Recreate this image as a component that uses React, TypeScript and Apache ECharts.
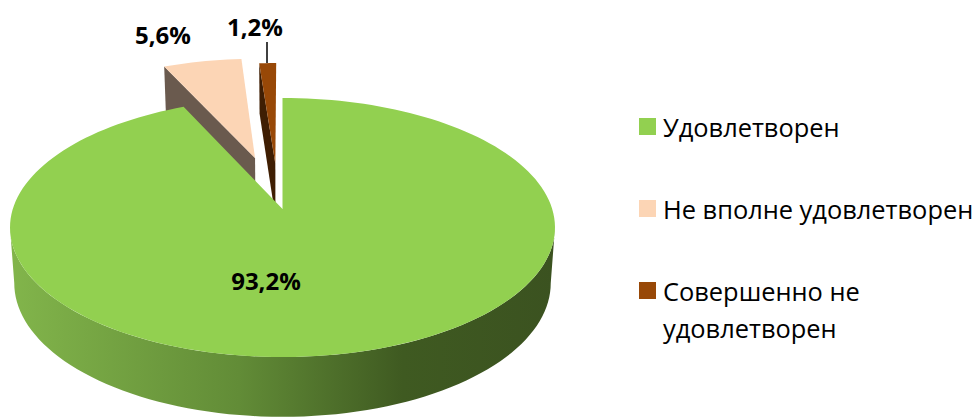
import React, { useEffect, useRef } from "react";
import * as echarts from "echarts";

const categories = ["Удовлетворен", "Не вполне удовлетворен", "Совершенно не\nудовлетворен"];
const values = [93.2, 5.6, 1.2];
const explodeOffsets = [[0, 0], [-0.108, -0.426], [-0.028, -0.376]];
const topColors = ["#92d050", "#fcd5b5", "#984807"];
const sideColors = ["#3d5520", "#6a5a4e", "#3f1e03"];
const labelPositions = [[266, 280], [163, 34], [255, 26]];

const FONT = '"Open Sans", "Noto Sans", sans-serif';
const CX = 282.5;
const K = 0.1428;
const TOP = { y0: 209, a: 126.9, b: 269.7 };
const BOTTOM = { y0: 264, a: 131, b: 265.5 };

function project(plane: any, u: number, v: number): number[] {
  const d = 1 - K * v;
  return [CX + (plane.b * u) / d, plane.y0 + (plane.a * v) / d];
}
function point(plane: any, deg: number, r: number, ou: number, ov: number) {
  const t = (deg * Math.PI) / 180;
  return project(plane, r * Math.sin(t) + ou, -r * Math.cos(t) + ov);
}
function arc(plane: any, a0: number, a1: number, ou: number, ov: number) {
  const pts: number[][] = [];
  const n = Math.max(2, Math.ceil(Math.abs(a1 - a0) / 2));
  for (let i = 0; i <= n; i++) pts.push(point(plane, a0 + ((a1 - a0) * i) / n, 1, ou, ov));
  return pts;
}
function fmt(v: number) {
  return v.toFixed(1).replace(".", ",") + "%";
}

function makeRenderItem(index: number) {
  return (_p: any, api: any) => {
    const total = values.reduce((s, x) => s + x, 0);
    const before = values.slice(0, index).reduce((s, x) => s + x, 0);
    const a0 = (before / total) * 360;
    const a1 = a0 + (api.value(0) / total) * 360;
    const [ou, ov] = explodeOffsets[index];
    const children: any[] = [];
    const apexTop = project(TOP, ou, ov);
    const apexBottom = project(BOTTOM, ou, ov);
    if (index === 0) {
      const wallTop = arc(TOP, 98.2, 261.8, 0, 0);
      const wallBottom = arc(BOTTOM, 261.8, 98.2, 0, 0);
      children.push({
        type: "polygon",
        shape: { points: [...wallTop, ...wallBottom] },
        style: {
          fill: new echarts.graphic.LinearGradient(
            10, 0, 555, 0,
            [
              { offset: 0, color: "#82b54b" },
              { offset: 0.42, color: "#628c37" },
              { offset: 0.72, color: "#3f5a21" },
              { offset: 1, color: "#3b5220" },
            ],
            true
          ),
        },
      });
    } else {
      children.push({
        type: "polygon",
        shape: {
          points: [
            point(TOP, a0, 1, ou, ov),
            apexTop,
            apexBottom,
            point(BOTTOM, a0, 1, ou, ov),
          ],
        },
        style: { fill: sideColors[index] },
      });
    }
    children.push({
      type: "polygon",
      shape: { points: [apexTop, ...arc(TOP, a0, a1, ou, ov)] },
      style: { fill: topColors[index] },
    });
    if (index === 2) {
      const lx = labelPositions[2][0] + 12;
      children.push({
        type: "line",
        shape: { x1: lx, y1: 42, x2: lx, y2: 63 },
        style: { stroke: "#000", lineWidth: 1.5 },
      });
    }
    children.push({
      type: "text",
      style: {
        text: fmt(api.value(0)),
        x: labelPositions[index][0],
        y: labelPositions[index][1],
        fill: "#000",
        font: `bold 24px ${FONT}`,
        textAlign: "center",
        textVerticalAlign: "middle",
      },
    });
    return { type: "group", children };
  };
}

export default function App() {
  const ref = useRef<HTMLDivElement>(null);
  useEffect(() => {
    document.body.style.margin = "0";
    const chart = echarts.init(ref.current!, null, { renderer: "svg" });
    const textStyle = { fontFamily: FONT, fontSize: 25.4, color: "#000", lineHeight: 37, padding: [0, 0, 0, 2] };
    chart.setOption({
      animation: false,
      backgroundColor: "#fff",
      legend: [
        {
          left: 634,
          top: 103,
          orient: "vertical",
          icon: "rect",
          itemWidth: 17,
          itemHeight: 17,
          itemGap: 45,
          data: [categories[0], categories[1]],
          textStyle,
          selectedMode: false,
        },
        {
          left: 634,
          top: 267,
          orient: "vertical",
          icon: "path://M0 0h17v17h-17zM0 54L0 54",
          symbolKeepAspect: false,
          itemWidth: 17,
          itemHeight: 54,
          data: [categories[2]],
          textStyle,
          selectedMode: false,
        },
      ],
      series: [2, 1, 0].map((i) => ({
        type: "custom",
        name: categories[i],
        coordinateSystem: "none",
        silent: true,
        itemStyle: { color: topColors[i] },
        data: [[values[i]]],
        renderItem: makeRenderItem(i),
      })),
    });
    return () => chart.dispose();
  }, []);
  return <div ref={ref} style={{ position: "fixed", left: 0, top: 0, width: 976, height: 417 }} />;
}
